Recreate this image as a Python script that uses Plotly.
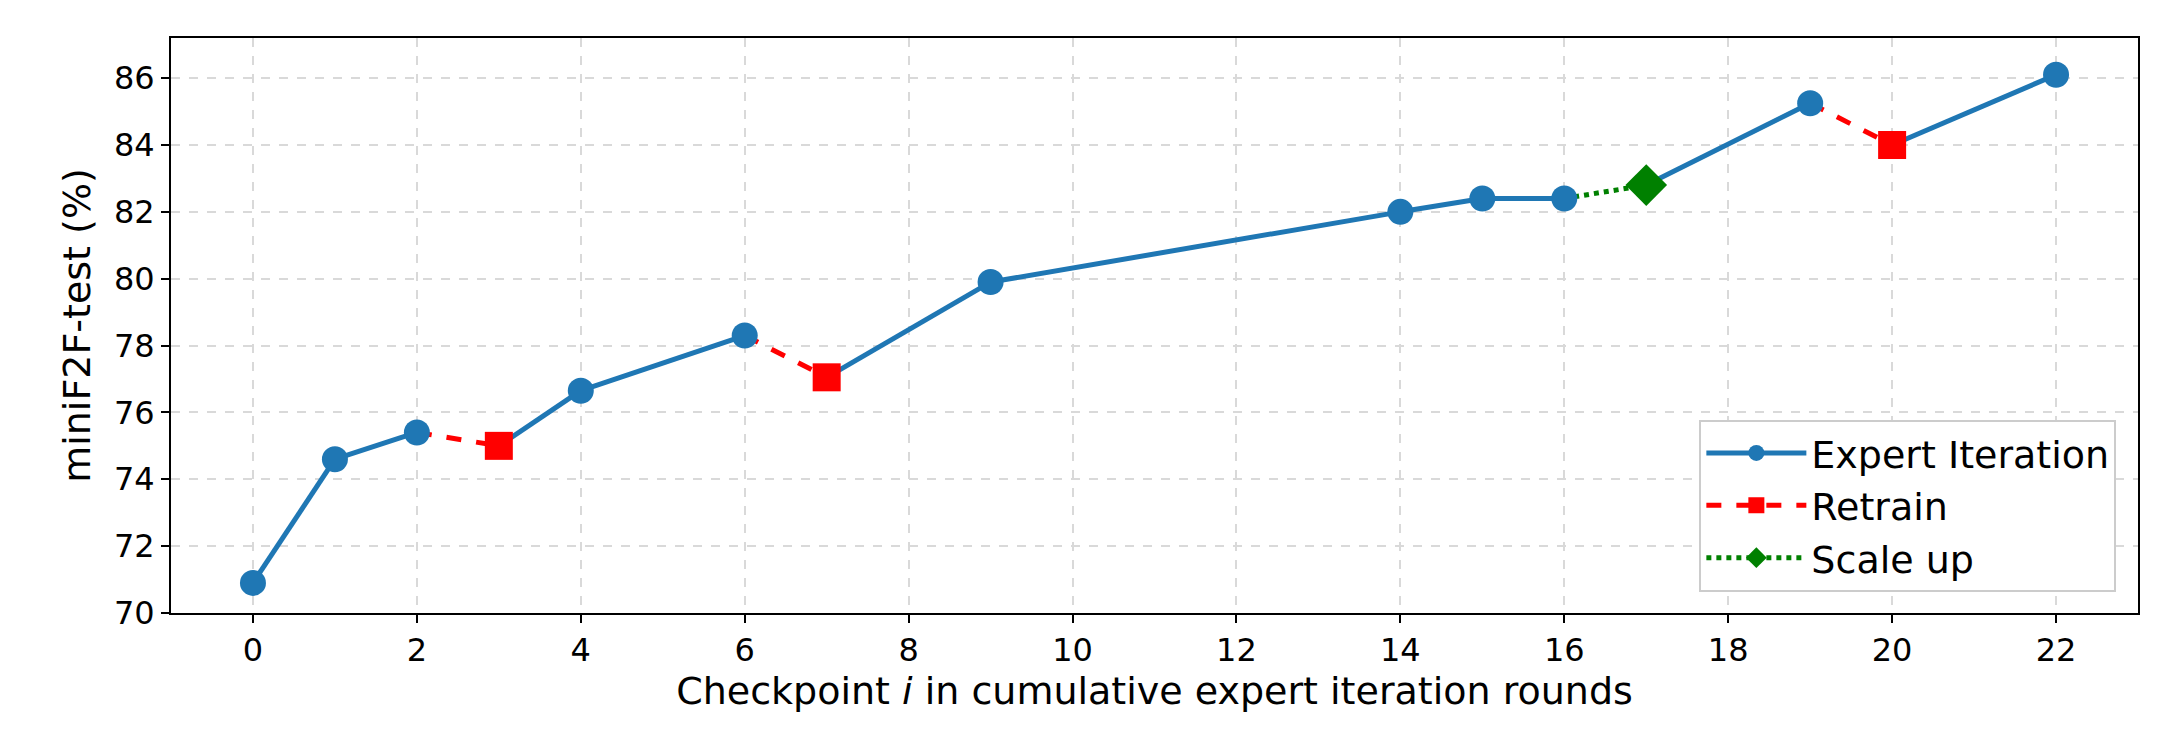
import plotly.graph_objects as go

expert_x = [0, 1, 2, 4, 6, 9, 14, 15, 16, 19, 22]
expert_y = [70.9, 74.6, 75.4, 76.65, 78.3, 79.9, 82.0, 82.4, 82.4, 85.25, 86.1]
retrain_x = [3, 7, 20]
retrain_y = [75.0, 77.05, 84.0]
retrain_from = [2, 6, 19]
scale_x = [17]
scale_y = [82.8]
scale_from = [16]

lookup = dict(zip(expert_x, expert_y))
lookup.update(zip(retrain_x, retrain_y))
lookup.update(zip(scale_x, scale_y))
all_x = sorted(lookup)
branch_starts = set(retrain_from + scale_from)

# solid blue path, broken where a retrain/scale-up step begins
bx, by = [], []
for a, b in zip(all_x[:-1], all_x[1:]):
    if a in branch_starts:
        continue
    bx += [a, b, None]
    by += [lookup[a], lookup[b], None]

rx, ry = [], []
for s, x, y in zip(retrain_from, retrain_x, retrain_y):
    rx += [s, x, None]; ry += [lookup[s], y, None]
gx, gy = [], []
for s, x, y in zip(scale_from, scale_x, scale_y):
    gx += [s, x, None]; gy += [lookup[s], y, None]

blue, red, green = "#1f77b4", "#ff0000", "#008000"
styles = [
    ("Expert Iteration", blue, "solid", "circle", 26),
    ("Retrain", red, "dash", "square", 28),
    ("Scale up", green, "dot", "diamond", 32),
]
fig = go.Figure()
for (xs, ys), (_, c, d, _, _) in zip([(bx, by), (rx, ry), (gx, gy)], styles):
    fig.add_trace(go.Scatter(x=xs, y=ys, mode="lines", line=dict(color=c, width=5, dash=d),
                             showlegend=False, hoverinfo="skip"))
for (xs, ys), (_, c, _, sym, sz) in zip([(expert_x, expert_y), (retrain_x, retrain_y),
                                         (scale_x, scale_y)], styles):
    fig.add_trace(go.Scatter(x=xs, y=ys, mode="markers", showlegend=False,
                             marker=dict(color=c, size=sz, symbol=sym)))
# legend entries
for name, c, d, sym, sz in styles:
    fig.add_trace(go.Scatter(x=[None], y=[None], mode="lines+markers", name=name,
                             line=dict(color=c, width=5, dash=d),
                             marker=dict(color=c, size=sz, symbol=sym)))

axis = dict(showline=True, linecolor="black", linewidth=2, mirror=True,
            ticks="outside", ticklen=8, tickwidth=2, tickcolor="black",
            showgrid=True, gridcolor="#d9d9d9", griddash="dash", gridwidth=1.5,
            zeroline=False, tickfont=dict(size=32, color="black"))
fig.update_xaxes(**axis, range=[-1, 23], tickvals=list(range(0, 23, 2)),
                 title=dict(text="Checkpoint <i>i</i> in cumulative expert iteration rounds",
                            font=dict(size=38, color="black"), standoff=8))
fig.update_yaxes(**axis, range=[70, 87.2], tickvals=list(range(70, 87, 2)),
                 title=dict(text="miniF2F-test (%)", font=dict(size=38, color="black"), standoff=12))
fig.update_layout(
    width=2160, height=756, plot_bgcolor="white", paper_bgcolor="white",
    font=dict(family="DejaVu Sans", color="black"),
    margin=dict(l=163, r=30, t=30, b=151),
    legend=dict(x=0.989, y=0.037, xanchor="right", yanchor="bottom",
                bgcolor="white", bordercolor="#cccccc", borderwidth=2,
                font=dict(size=38), itemwidth=100, tracegroupgap=8),
)
fig.write_html("out.html")
